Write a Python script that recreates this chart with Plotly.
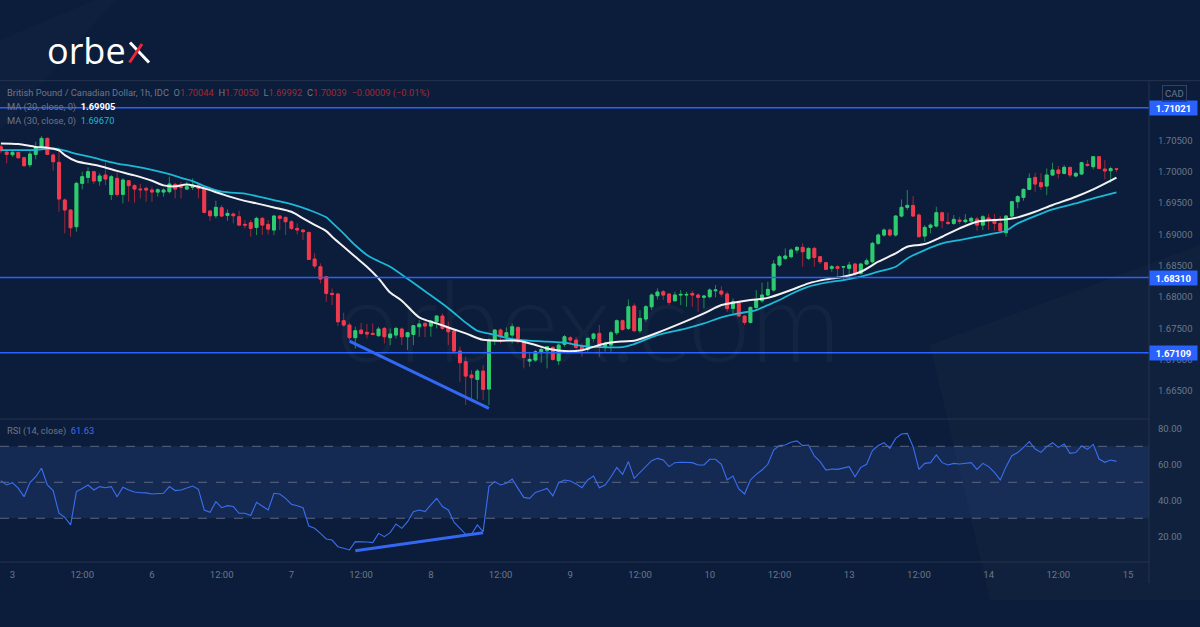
import plotly.graph_objects as go

W, H = 1200, 627

# ---------------- data ----------------
hours = list(range(-2, 191))  # hourly bar positions (0 = day 3, 00:00)

opens = [
    1.70398, 1.70313, 1.70270, 1.70308, 1.70222, 1.70111, 1.70276, 1.70387, 1.70531, 1.70265,
    1.70148, 1.69547, 1.69387, 1.69121, 1.69813, 1.69908, 1.69999, 1.69850, 1.69946, 1.69637,
    1.69893, 1.69637, 1.69855, 1.69776, 1.69722, 1.69733, 1.69706, 1.69674, 1.69674, 1.69680,
    1.69797, 1.69760, 1.69722, 1.69749, 1.69786, 1.69733, 1.69371, 1.69296, 1.69424, 1.69302,
    1.69323, 1.69280, 1.69158, 1.69185, 1.69110, 1.69254, 1.69158, 1.69068, 1.69291, 1.69270,
    1.69201, 1.69094, 1.69068, 1.69030, 1.68605, 1.68482, 1.68322, 1.68056, 1.68046, 1.67620,
    1.67551, 1.67349, 1.67471, 1.67434, 1.67418, 1.67381, 1.67498, 1.67349, 1.67391, 1.67487,
    1.67364, 1.67402, 1.67524, 1.67577, 1.67535, 1.67604, 1.67694, 1.67513, 1.67455, 1.67136,
    1.66965, 1.66752, 1.66683, 1.66816, 1.66529, 1.67311, 1.67471, 1.67364, 1.67391, 1.67513,
    1.67295, 1.66976, 1.66992, 1.67125, 1.67141, 1.67194, 1.66981, 1.67242, 1.67348, 1.67311,
    1.67215, 1.67162, 1.67338, 1.67418, 1.67194, 1.67231, 1.67428, 1.67620, 1.67497, 1.67854,
    1.67460, 1.67647, 1.67843, 1.68019, 1.68083, 1.68046, 1.67939, 1.68030, 1.68030, 1.68056,
    1.68030, 1.67993, 1.68003, 1.68099, 1.68094, 1.68046, 1.67817, 1.67907, 1.67694, 1.67593,
    1.67833, 1.67939, 1.68030, 1.68110, 1.68509, 1.68616, 1.68642, 1.68748, 1.68791, 1.68615,
    1.68775, 1.68642, 1.68546, 1.68456, 1.68482, 1.68477, 1.68456, 1.68525, 1.68376, 1.68525,
    1.68562, 1.68855, 1.68988, 1.69068, 1.68988, 1.69291, 1.69430, 1.69461, 1.69307, 1.68972,
    1.69110, 1.69131, 1.69344, 1.69190, 1.69174, 1.69227, 1.69201, 1.69211, 1.69243, 1.69147,
    1.69259, 1.69238, 1.69174, 1.69025, 1.69291, 1.69520, 1.69589, 1.69717, 1.69908, 1.69823,
    1.69770, 1.69946, 1.70026, 1.69972, 1.70068, 1.69930, 1.69962, 1.70116, 1.70079, 1.70238,
    1.70041, 1.70015, 1.70044,
]
highs = [
    1.70425, 1.70324, 1.70334, 1.70324, 1.70238, 1.70324, 1.70478, 1.70568, 1.70547, 1.70292,
    1.70371, 1.69573, 1.69398, 1.69839, 1.69999, 1.70068, 1.70015, 1.69972, 1.70148, 1.69946,
    1.69999, 1.69893, 1.69866, 1.69802, 1.69802, 1.69760, 1.69760, 1.69733, 1.69733, 1.69919,
    1.69823, 1.69839, 1.69839, 1.69893, 1.69813, 1.69759, 1.69387, 1.69536, 1.69467, 1.69397,
    1.69350, 1.69376, 1.69227, 1.69227, 1.69280, 1.69280, 1.69227, 1.69307, 1.69307, 1.69280,
    1.69227, 1.69174, 1.69078, 1.69041, 1.68695, 1.68535, 1.68333, 1.68136, 1.68067, 1.67748,
    1.67588, 1.67524, 1.67588, 1.67567, 1.67577, 1.67524, 1.67524, 1.67497, 1.67524, 1.67513,
    1.67444, 1.67551, 1.67631, 1.67604, 1.67631, 1.67710, 1.67737, 1.67604, 1.67471, 1.67205,
    1.67045, 1.66832, 1.66848, 1.66912, 1.67338, 1.67481, 1.67497, 1.67513, 1.67577, 1.67535,
    1.67311, 1.67098, 1.67152, 1.67194, 1.67215, 1.67215, 1.67258, 1.67391, 1.67375, 1.67364,
    1.67258, 1.67354, 1.67428, 1.67551, 1.67285, 1.67460, 1.67641, 1.67641, 1.67960, 1.67897,
    1.67790, 1.67870, 1.68056, 1.68136, 1.68110, 1.68056, 1.68083, 1.68110, 1.68083, 1.68099,
    1.68056, 1.68030, 1.68136, 1.68189, 1.68173, 1.68083, 1.67976, 1.67939, 1.67710, 1.67843,
    1.68110, 1.68227, 1.68242, 1.68589, 1.68669, 1.68775, 1.68775, 1.68812, 1.68855, 1.68791,
    1.68802, 1.68653, 1.68562, 1.68509, 1.68509, 1.68493, 1.68562, 1.68546, 1.68546, 1.68615,
    1.68882, 1.69014, 1.69094, 1.69094, 1.69307, 1.69557, 1.69706, 1.69610, 1.69334, 1.69147,
    1.69174, 1.69440, 1.69360, 1.69344, 1.69307, 1.69280, 1.69323, 1.69280, 1.69280, 1.69307,
    1.69323, 1.69323, 1.69291, 1.69307, 1.69536, 1.69626, 1.69733, 1.69972, 1.69983, 1.69972,
    1.70052, 1.70143, 1.70089, 1.70105, 1.70079, 1.69999, 1.70159, 1.70185, 1.70249, 1.70249,
    1.70185, 1.70079, 1.70050,
]
lows = [
    1.70292, 1.70132, 1.70238, 1.70206, 1.70079, 1.70068, 1.70196, 1.70371, 1.70265, 1.70015,
    1.69361, 1.69015, 1.68962, 1.69041, 1.69717, 1.69813, 1.69802, 1.69776, 1.69786, 1.69547,
    1.69600, 1.69493, 1.69520, 1.69504, 1.69573, 1.69520, 1.69520, 1.69600, 1.69600, 1.69653,
    1.69573, 1.69573, 1.69706, 1.69706, 1.69573, 1.69334, 1.69217, 1.69254, 1.69280, 1.69217,
    1.69174, 1.69131, 1.69094, 1.68961, 1.68988, 1.68988, 1.68998, 1.68988, 1.69068, 1.68988,
    1.69068, 1.68998, 1.68908, 1.68588, 1.68456, 1.68216, 1.67923, 1.67870, 1.67535, 1.67524,
    1.67311, 1.67178, 1.67391, 1.67338, 1.67391, 1.67365, 1.67258, 1.67231, 1.67338, 1.67231,
    1.67152, 1.67231, 1.67364, 1.67354, 1.67364, 1.67497, 1.67471, 1.67231, 1.67098, 1.66646,
    1.66273, 1.66327, 1.66364, 1.66353, 1.66273, 1.67231, 1.67258, 1.67311, 1.67258, 1.67258,
    1.66859, 1.66885, 1.66965, 1.66949, 1.66859, 1.66981, 1.66912, 1.67205, 1.67231, 1.67152,
    1.67045, 1.67125, 1.67285, 1.67045, 1.67125, 1.67125, 1.67391, 1.67460, 1.67471, 1.67444,
    1.67418, 1.67604, 1.67790, 1.67960, 1.67950, 1.67870, 1.67923, 1.67870, 1.67843, 1.67843,
    1.67763, 1.67816, 1.67976, 1.67993, 1.68003, 1.67763, 1.67710, 1.67684, 1.67551, 1.67577,
    1.67790, 1.67907, 1.68003, 1.68083, 1.68482, 1.68589, 1.68616, 1.68695, 1.68482, 1.68589,
    1.68482, 1.68525, 1.68429, 1.68403, 1.68312, 1.68269, 1.68322, 1.68322, 1.68349, 1.68509,
    1.68536, 1.68828, 1.68961, 1.68961, 1.68961, 1.69270, 1.69387, 1.69281, 1.68950, 1.68882,
    1.69014, 1.69110, 1.69094, 1.69147, 1.69147, 1.69163, 1.69174, 1.69174, 1.69057, 1.69068,
    1.69068, 1.69057, 1.69014, 1.68961, 1.69270, 1.69414, 1.69536, 1.69706, 1.69680, 1.69706,
    1.69626, 1.69930, 1.69893, 1.69956, 1.69909, 1.69909, 1.69946, 1.70079, 1.70036, 1.70036,
    1.69877, 1.69823, 1.69992,
]
closes = [
    1.70334, 1.70276, 1.70308, 1.70222, 1.70095, 1.70281, 1.70387, 1.70531, 1.70276, 1.70159,
    1.69563, 1.69387, 1.69105, 1.69813, 1.69919, 1.69999, 1.69850, 1.69930, 1.69882, 1.69919,
    1.69637, 1.69866, 1.69776, 1.69722, 1.69712, 1.69706, 1.69674, 1.69712, 1.69706, 1.69802,
    1.69722, 1.69749, 1.69760, 1.69786, 1.69733, 1.69350, 1.69296, 1.69430, 1.69291, 1.69334,
    1.69296, 1.69147, 1.69147, 1.69094, 1.69254, 1.69147, 1.69083, 1.69291, 1.69254, 1.69201,
    1.69094, 1.69068, 1.69041, 1.68599, 1.68493, 1.68285, 1.68056, 1.68040, 1.67604, 1.67551,
    1.67349, 1.67460, 1.67418, 1.67407, 1.67402, 1.67487, 1.67365, 1.67407, 1.67497, 1.67364,
    1.67428, 1.67540, 1.67567, 1.67535, 1.67615, 1.67694, 1.67497, 1.67444, 1.67136, 1.66949,
    1.66736, 1.66710, 1.66816, 1.66524, 1.67311, 1.67471, 1.67364, 1.67428, 1.67524, 1.67285,
    1.67034, 1.67002, 1.67125, 1.67162, 1.67205, 1.67002, 1.67231, 1.67364, 1.67311, 1.67194,
    1.67162, 1.67338, 1.67407, 1.67194, 1.67258, 1.67428, 1.67620, 1.67481, 1.67843, 1.67460,
    1.67657, 1.67843, 1.68030, 1.68078, 1.68030, 1.67913, 1.68030, 1.68040, 1.68040, 1.68030,
    1.67993, 1.68014, 1.68110, 1.68110, 1.68046, 1.67817, 1.67923, 1.67694, 1.67593, 1.67833,
    1.67950, 1.68030, 1.68120, 1.68525, 1.68642, 1.68653, 1.68748, 1.68791, 1.68722, 1.68775,
    1.68631, 1.68562, 1.68440, 1.68482, 1.68456, 1.68482, 1.68509, 1.68386, 1.68525, 1.68578,
    1.68855, 1.68988, 1.69068, 1.68988, 1.69291, 1.69430, 1.69461, 1.69291, 1.68961, 1.69110,
    1.69147, 1.69344, 1.69217, 1.69174, 1.69238, 1.69206, 1.69227, 1.69254, 1.69147, 1.69280,
    1.69227, 1.69174, 1.69057, 1.69291, 1.69520, 1.69600, 1.69717, 1.69892, 1.69802, 1.69759,
    1.69946, 1.70026, 1.69972, 1.70068, 1.69946, 1.69972, 1.70143, 1.70100, 1.70238, 1.70052,
    1.70010, 1.70048, 1.70039,
]

ma20_x = [-2, 1, 4, 6, 8, 9, 11, 13, 15, 18, 21, 24, 26, 28, 30, 33, 36, 39, 42, 45,
          48, 50, 52, 54, 55, 57, 59, 61, 63, 65, 67, 70, 73, 76, 78, 81, 84, 87, 90, 92,
          95, 98, 102, 105, 107, 111, 115, 119, 122, 124, 127, 130, 134, 137, 140, 143, 146,
          149, 152, 154, 157, 160, 163, 166, 169, 171, 173, 176, 179, 183, 186, 190]
ma20_v = [1.70451, 1.70441, 1.70395, 1.70382, 1.70340, 1.70265, 1.70165, 1.70125, 1.70089, 1.70012,
          1.69940, 1.69855, 1.69781, 1.69765, 1.69795, 1.69733, 1.69642, 1.69557, 1.69493, 1.69429,
          1.69360, 1.69255, 1.69150, 1.69050, 1.68961, 1.68801, 1.68640, 1.68482, 1.68296, 1.68070,
          1.67940, 1.67673, 1.67577, 1.67481, 1.67418, 1.67315, 1.67301, 1.67301, 1.67231, 1.67178,
          1.67136, 1.67150, 1.67258, 1.67290, 1.67301, 1.67428, 1.67577, 1.67737, 1.67870, 1.67907,
          1.67950, 1.67985, 1.68110, 1.68216, 1.68280, 1.68323, 1.68402, 1.68562, 1.68695, 1.68801,
          1.68844, 1.68961, 1.69094, 1.69201, 1.69227, 1.69238, 1.69270, 1.69360, 1.69467, 1.69600,
          1.69717, 1.69905]

ma30_x = [-2, 4, 7, 9, 11, 13, 15, 18, 21, 24, 27, 29, 31, 33, 36, 40, 42, 45, 48, 51,
          54, 55, 57, 59, 61, 63, 65, 68, 71, 75, 78, 80, 83, 86, 89, 92, 95, 98, 101, 105,
          107, 111, 116, 119, 122, 125, 128, 130, 132, 134, 137, 140, 143, 146, 149, 152, 154,
          157, 160, 163, 166, 169, 171, 173, 176, 179, 183, 186, 190]
ma30_v = [1.70345, 1.70345, 1.70371, 1.70334, 1.70285, 1.70245, 1.70196, 1.70130, 1.70085, 1.70030,
          1.69960, 1.69900, 1.69850, 1.69770, 1.69680, 1.69650, 1.69610, 1.69547, 1.69483, 1.69390,
          1.69270, 1.69185, 1.69010, 1.68825, 1.68670, 1.68570, 1.68482, 1.68290, 1.68090, 1.67820,
          1.67590, 1.67460, 1.67395, 1.67325, 1.67301, 1.67285, 1.67269, 1.67220, 1.67200, 1.67200,
          1.67247, 1.67391, 1.67498, 1.67577, 1.67673, 1.67737, 1.67790, 1.67870, 1.67950, 1.68046,
          1.68163, 1.68227, 1.68269, 1.68323, 1.68402, 1.68482, 1.68615, 1.68748, 1.68855, 1.68908,
          1.68961, 1.69014, 1.69057, 1.69174, 1.69291, 1.69398, 1.69493, 1.69573, 1.69670]

rsi_v = [
    50.9, 48.5, 49.8, 46.6, 42.0, 49.8, 53.1, 57.8, 48.5, 45.4, 32.8, 30.5,
    26.3, 44.8, 46.6, 48.5, 45.7, 47.6, 47.0, 47.6, 42.0, 47.2,
    45.7, 44.6, 44.2, 44.1, 43.5, 43.9, 43.9, 47.6, 45.4, 45.7,
    46.6, 47.9, 46.1, 34.6, 33.3, 39.2, 35.9, 37.0, 36.5, 32.8,
    32.8, 31.5, 38.9, 36.5, 34.6, 43.9, 43.5, 41.1, 37.8, 37.0,
    35.9, 25.7, 24.4, 21.6, 18.5, 17.9, 14.2, 13.3, 12.4, 17.0,
    17.0, 16.8, 16.5, 21.6, 19.8, 22.0, 26.8, 24.4, 28.1, 33.7,
    34.6, 33.7, 37.4, 41.1, 36.5, 34.6, 27.8, 24.4, 21.1, 21.1,
    26.3, 22.6, 47.6, 50.4, 48.5, 49.4, 51.8, 46.6, 41.6, 41.1,
    44.4, 45.4, 46.6, 42.4,
    49.8, 51.3, 50.7, 49.1, 47.0, 51.3,
    53.5, 47.0, 48.5, 53.1, 58.3, 54.4, 61.5, 52.2, 55.5, 58.7,
    62.0, 63.3, 62.4, 58.7, 60.9, 61.1, 60.9, 60.9, 59.6, 59.6,
    62.8, 62.8, 60.0, 51.3, 53.5, 46.3, 43.5, 51.3, 54.4, 56.8,
    60.0, 67.9, 70.4, 70.7, 72.2, 73.0, 70.4, 70.7, 64.6, 61.5,
    56.8, 57.4, 57.2, 57.8, 58.7, 53.1, 58.3, 60.0, 67.6, 70.4,
    72.0, 68.9, 74.4, 76.8, 77.2, 69.8, 57.2, 60.5, 60.9, 65.2,
    60.9, 59.6, 60.5, 60.2, 60.4, 60.9, 57.2, 60.5, 58.7, 55.5,
    51.3, 58.7, 64.8, 66.5, 69.4, 72.6, 68.5, 66.6, 69.8, 72.0,
    69.4, 71.3, 66.1, 66.5, 70.2, 68.3, 71.1, 62.9, 61.1, 62.4, 61.63,
]

levels = [1.71021, 1.68310, 1.67109]
price_ticks = [1.665, 1.670, 1.675, 1.680, 1.685, 1.690, 1.695, 1.700, 1.705]
rsi_ticks = [20, 40, 60, 80]
rsi_guides = [70, 50, 30]
rsi_band = [30, 70]
tick_pos = [0, 12, 24, 36, 48, 60, 72, 84, 96, 108, 120, 132, 144, 156, 168, 180, 192]
tick_text = ["3", "12:00", "6", "12:00", "7", "12:00", "8", "12:00", "9", "12:00",
             "10", "12:00", "13", "12:00", "14", "12:00", "15"]

trend_price_x = [58, 82]
trend_price_y = [1.67295, 1.66220]
trend_rsi_x = [59, 81]
trend_rsi_y = [12.0, 22.0]

# ---------------- styling ----------------
BG = "#0b1d3a"
AXC = "#6c778a"
LINEC = "#26344e"
BLUE = "#2962ff"
GREEN = "#2ecc71"
RED = "#ef3a4f"
GREEN_W = "#1f8a4f"
RED_W = "#9e2738"
FONT = "Roboto"

XD = 1149 / W
def py(p):
    return 1 - p / H

X_RANGE = [-2.15, 195.6]

body_hi = [max(o, c) for o, c in zip(opens, closes)]
body_lo = [min(o, c) for o, c in zip(opens, closes)]

fig = go.Figure()

# wicks
fig.add_trace(go.Candlestick(
    x=hours, open=opens, high=highs, low=lows, close=closes,
    increasing=dict(line=dict(color=GREEN_W, width=1), fillcolor=GREEN_W),
    decreasing=dict(line=dict(color=RED_W, width=1), fillcolor=RED_W),
    hoverinfo="skip", showlegend=False, xaxis="x", yaxis="y"))
# bodies
fig.add_trace(go.Candlestick(
    x=hours, open=opens, high=body_hi, low=body_lo, close=closes,
    increasing=dict(line=dict(color=GREEN, width=1), fillcolor=GREEN),
    decreasing=dict(line=dict(color=RED, width=1), fillcolor=RED),
    hoverinfo="skip", showlegend=False, xaxis="x", yaxis="y"))

fig.add_trace(go.Scatter(x=ma30_x, y=ma30_v, mode="lines",
                         line=dict(color="#1cb8d6", width=1.8, shape="spline", smoothing=0.8),
                         showlegend=False, hoverinfo="skip", xaxis="x", yaxis="y"))
fig.add_trace(go.Scatter(x=ma20_x, y=ma20_v, mode="lines",
                         line=dict(color="#f2f2f2", width=2, shape="spline", smoothing=0.8),
                         showlegend=False, hoverinfo="skip", xaxis="x", yaxis="y"))
fig.add_trace(go.Scatter(x=trend_price_x, y=trend_price_y, mode="lines",
                         line=dict(color="#3467f2", width=3),
                         showlegend=False, hoverinfo="skip", xaxis="x", yaxis="y"))

fig.add_trace(go.Scatter(x=hours, y=rsi_v, mode="lines",
                         line=dict(color="#3a6ef0", width=1.1),
                         showlegend=False, hoverinfo="skip", xaxis="x2", yaxis="y2"))
fig.add_trace(go.Scatter(x=trend_rsi_x, y=trend_rsi_y, mode="lines",
                         line=dict(color="#3467f2", width=3),
                         showlegend=False, hoverinfo="skip", xaxis="x2", yaxis="y2"))

shapes = []
# decorative background facets
shapes.append(dict(type="path", xref="paper", yref="paper", layer="below",
                   path=f"M {930/W},{py(345)} L {1200/W},{py(245)} L {1200/W},{py(600)} L {990/W},{py(600)} Z",
                   fillcolor="rgba(255,255,255,0.018)", line=dict(width=0)))
shapes.append(dict(type="path", xref="paper", yref="paper", layer="below",
                   path=f"M 0,{py(40)} L {95/W},1 L {115/W},1 L 0,{py(130)} Z",
                   fillcolor="rgba(255,255,255,0.015)", line=dict(width=0)))
# RSI band
shapes.append(dict(type="rect", xref="paper", yref="y2", x0=0, x1=XD,
                   y0=rsi_band[0], y1=rsi_band[1], layer="below",
                   fillcolor="rgba(52,78,150,0.28)", line=dict(width=0)))
for g in rsi_guides:
    shapes.append(dict(type="line", xref="paper", yref="y2", x0=0, x1=XD, y0=g, y1=g,
                       layer="below", line=dict(color="#5b6680", width=1, dash="dash")))
# horizontal levels
for lv in levels:
    shapes.append(dict(type="line", xref="paper", yref="y", x0=0, x1=XD, y0=lv, y1=lv,
                       layer="above", line=dict(color=BLUE, width=1.6)))
# frame lines
shapes.append(dict(type="line", xref="paper", yref="paper", x0=0, x1=1, y0=py(80.7), y1=py(80.7),
                   line=dict(color=LINEC, width=1)))
shapes.append(dict(type="line", xref="paper", yref="paper", x0=0, x1=XD, y0=py(419), y1=py(419),
                   line=dict(color=LINEC, width=1)))
shapes.append(dict(type="line", xref="paper", yref="paper", x0=0, x1=XD, y0=py(562), y1=py(562),
                   line=dict(color=LINEC, width=1)))
shapes.append(dict(type="line", xref="paper", yref="paper", x0=XD, x1=XD, y0=py(583), y1=py(80.7),
                   line=dict(color=LINEC, width=1)))
# logo "x" strokes
shapes.append(dict(type="line", xref="paper", yref="paper", x0=130/W, x1=149/W, y0=py(42.5), y1=py(62.5),
                   line=dict(color="#ffffff", width=3)))
shapes.append(dict(type="line", xref="paper", yref="paper", x0=129.5/W, x1=142/W, y0=py(62.5), y1=py(44),
                   line=dict(color="#e8283c", width=3)))

GRAY = "#6e7687"
DRED = "#a12a33"
NB = "\u00a0"
o, h_, l_, c = opens[-1], highs[-1], lows[-1], closes[-1]
chg = c - closes[-2]
pct = chg / closes[-2] * 100
hdr = (f"British Pound / Canadian Dollar, 1h, IDC{NB}{NB}"
       f"O<span style='color:{DRED}'>{o:.5f}</span>{NB}{NB}"
       f"H<span style='color:{DRED}'>{h_:.5f}</span>{NB}{NB}"
       f"L<span style='color:{DRED}'>{l_:.5f}</span>{NB}{NB}"
       f"C<span style='color:{DRED}'>{c:.5f}</span>{NB}{NB}"
       f"<span style='color:{DRED}'>{chg:+.5f} ({pct:+.2f}%)</span>").replace("-", "\u2212")

HF = 9.3
ann = []
ann.append(dict(text=hdr, xref="paper", yref="paper", x=5/W, y=py(93.3), xanchor="left", yanchor="middle",
                showarrow=False, font=dict(family=FONT, size=HF, color=GRAY)))
ann.append(dict(text=f"MA (20, close, 0){NB}{NB}<b><span style='color:#ffffff'>{ma20_v[-1]:.5f}</span></b>",
                xref="paper", yref="paper", x=5/W, y=py(106.8), xanchor="left", yanchor="middle",
                showarrow=False, font=dict(family=FONT, size=HF, color=GRAY)))
ann.append(dict(text=f"MA (30, close, 0){NB}{NB}<span style='color:#1cb8d6'>{ma30_v[-1]:.5f}</span>",
                xref="paper", yref="paper", x=5/W, y=py(120.5), xanchor="left", yanchor="middle",
                showarrow=False, font=dict(family=FONT, size=HF, color=GRAY)))
ann.append(dict(text=f"RSI (14, close){NB}{NB}<span style='color:#3a6ef0'>{rsi_v[-1]:.2f}</span>",
                xref="paper", yref="paper", x=5/W, y=py(431), xanchor="left", yanchor="middle",
                showarrow=False, font=dict(family=FONT, size=HF, color=GRAY)))
for lv in levels:
    ann.append(dict(text=f"<b>{lv:.5f}</b>", xref="paper", yref="y", x=XD, y=lv,
                    xanchor="left", yanchor="middle", showarrow=False, bgcolor=BLUE,
                    width=44, borderpad=1.5, align="center",
                    font=dict(family=FONT, size=9.5, color="#ffffff")))
ann.append(dict(text="CAD", xref="paper", yref="paper", x=1174.5/W, y=py(93), xanchor="center",
                yanchor="middle", showarrow=False, bordercolor="#33425e", borderwidth=1, borderpad=2,
                font=dict(family=FONT, size=9.5, color=AXC)))
# logo
ann.append(dict(text="orbe", xref="paper", yref="paper", x=128/W, y=py(51), xanchor="right",
                yanchor="middle", showarrow=False,
                font=dict(family="Open Sans", size=36, color="#ffffff", weight=400)))
# watermark
ann.append(dict(text="orbex.com", xref="paper", yref="paper", x=588/W, y=py(318), xanchor="center",
                yanchor="middle", showarrow=False,
                font=dict(family="Lato", size=112, color="rgba(255,255,255,0.03)", weight=300)))

axfont = dict(family=FONT, size=9.5, color=AXC)
fig.update_layout(
    width=W, height=H, margin=dict(l=0, r=0, t=0, b=0),
    paper_bgcolor=BG, plot_bgcolor="rgba(0,0,0,0)",
    showlegend=False, hovermode=False,
    shapes=shapes, annotations=ann,
    xaxis=dict(domain=[0, XD], range=X_RANGE, anchor="y", showticklabels=False, showgrid=False,
               zeroline=False, showline=False, ticks="", rangeslider=dict(visible=False), fixedrange=True),
    xaxis2=dict(domain=[0, XD], range=X_RANGE, anchor="y2", tickmode="array", tickvals=tick_pos,
                ticktext=tick_text, tickfont=axfont, showgrid=False, zeroline=False, showline=False,
                ticks="", ticklabelstandoff=5, fixedrange=True),
    yaxis=dict(domain=[py(419), py(80.7)], range=[1.66051, 1.71452], anchor="x", side="right",
               tickmode="array", tickvals=price_ticks, tickformat=".5f", tickfont=axfont,
               showgrid=False, zeroline=False, showline=False, ticks="", ticklabelstandoff=8,
               fixedrange=True),
    yaxis2=dict(domain=[py(562), py(419)], range=[5.7, 85.17], anchor="x2", side="right",
                tickmode="array", tickvals=rsi_ticks, tickformat=".2f", tickfont=axfont,
                showgrid=False, zeroline=False, showline=False, ticks="", ticklabelstandoff=8,
                fixedrange=True),
)

fig.write_html(
    "out.html",
    config={"displayModeBar": False, "staticPlot": True},
    post_script="document.body.style.margin='0';document.body.style.overflow='hidden';"
                "document.body.style.background='" + BG + "';",
)
